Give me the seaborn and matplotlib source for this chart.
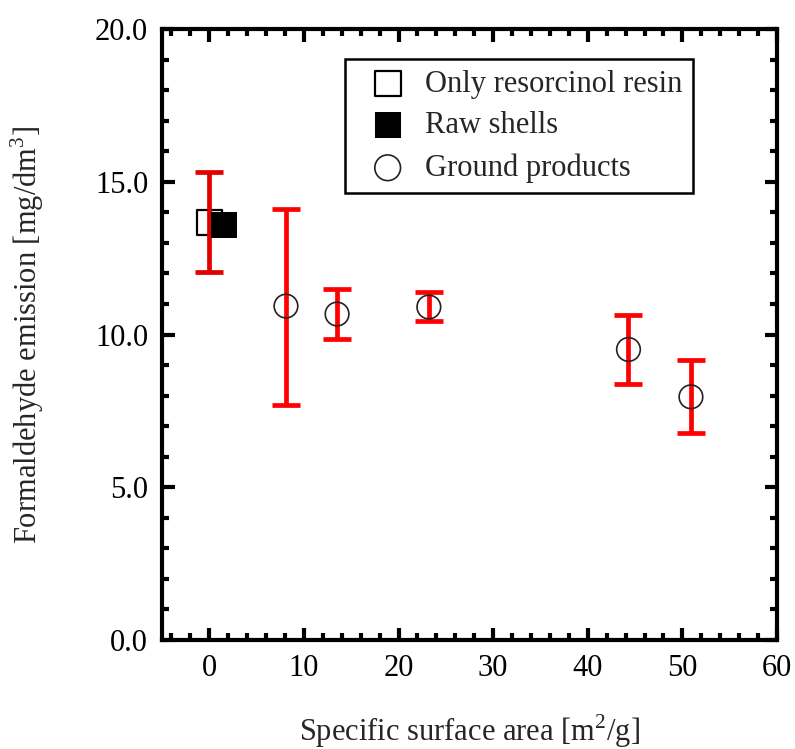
import matplotlib
matplotlib.use("Agg")
import matplotlib.pyplot as plt
import seaborn as sns
import pandas as pd
from matplotlib.ticker import MultipleLocator, FormatStrFormatter

# Values
resin_x = [0.0]
resin_y = [13.67]
resin_err = [1.64]

raw_x = [1.6]
raw_y = [13.57]

ground_x = [8.1, 13.5, 23.2, 44.3, 50.9]
ground_y = [10.93, 10.67, 10.90, 9.51, 7.96]
ground_lo = [7.70, 9.84, 10.43, 8.38, 6.78]
ground_hi = [14.12, 11.50, 11.40, 10.65, 9.17]

sns.set_style("ticks")
plt.rcParams["font.family"] = ["Liberation Serif", "DejaVu Serif"]
plt.rcParams["mathtext.fontset"] = "custom"
plt.rcParams["mathtext.rm"] = "Liberation Serif"

fig = plt.figure(figsize=(7.95, 7.49), dpi=100)
ax = fig.add_axes([0.2038, 0.1455, 0.7736, 0.8158])

ground = pd.DataFrame({"x": ground_x, "y": ground_y})
ground["lo"] = ground["y"] - pd.Series(ground_lo)
ground["hi"] = pd.Series(ground_hi) - ground["y"]

sns.scatterplot(x=resin_x, y=resin_y, ax=ax, marker="s", s=18**2,
                facecolors="none", edgecolor="black", linewidth=1.6,
                label="Only resorcinol resin", zorder=2)
ax.errorbar(resin_x, resin_y, yerr=resin_err, fmt="none", ecolor="#e00000",
            elinewidth=3.4, capsize=10, capthick=3.4, zorder=3)
sns.scatterplot(x=raw_x, y=raw_y, ax=ax, marker="s", s=19**2,
                color="black", edgecolor="black", linewidth=0,
                label="Raw shells", zorder=4)
ax.errorbar(ground["x"], ground["y"], yerr=[ground["lo"], ground["hi"]],
            fmt="none", ecolor="red", elinewidth=3.4, capsize=10,
            capthick=3.4, zorder=3)
sns.scatterplot(data=ground, x="x", y="y", ax=ax, marker="o", s=17**2,
                facecolors="none", edgecolor="#222222", linewidth=1.2,
                label="Ground products", zorder=5)

ax.set_xlim(-5, 60)
ax.set_ylim(0, 20)
ax.xaxis.set_major_locator(MultipleLocator(10))
ax.xaxis.set_minor_locator(MultipleLocator(2))
ax.yaxis.set_major_locator(MultipleLocator(5))
ax.yaxis.set_minor_locator(MultipleLocator(1))
ax.yaxis.set_major_formatter(FormatStrFormatter("%.1f"))

for side in ["left", "right", "top", "bottom"]:
    ax.spines[side].set_visible(True)
    ax.spines[side].set_linewidth(3)
    ax.spines[side].set_color("black")

ax.tick_params(which="both", direction="in", top=True, right=True,
               width=3, labelsize=22, colors="black")
ax.tick_params(which="major", length=9)
ax.tick_params(which="minor", length=5)
ax.tick_params(axis="x", which="major", pad=10)
ax.tick_params(axis="y", which="major", pad=10)

ax.set_xlabel("Specific surface area [m$^2$/g]", fontsize=22, labelpad=21)
ax.set_ylabel("Formaldehyde emission [mg/dm$^3$]", fontsize=22, labelpad=35)

leg = ax.legend(loc="upper right", bbox_to_anchor=(0.8634, 0.951),
                fontsize=22, frameon=True, fancybox=False, framealpha=1,
                edgecolor="black", handletextpad=0.17, borderpad=0.35,
                labelspacing=0.42, handlelength=2.1, borderaxespad=0)
leg.get_frame().set_linewidth(1.8)
for h in leg.legend_handles:
    h.set_sizes([18.5**2])

fig.savefig("out.png", dpi=100)
